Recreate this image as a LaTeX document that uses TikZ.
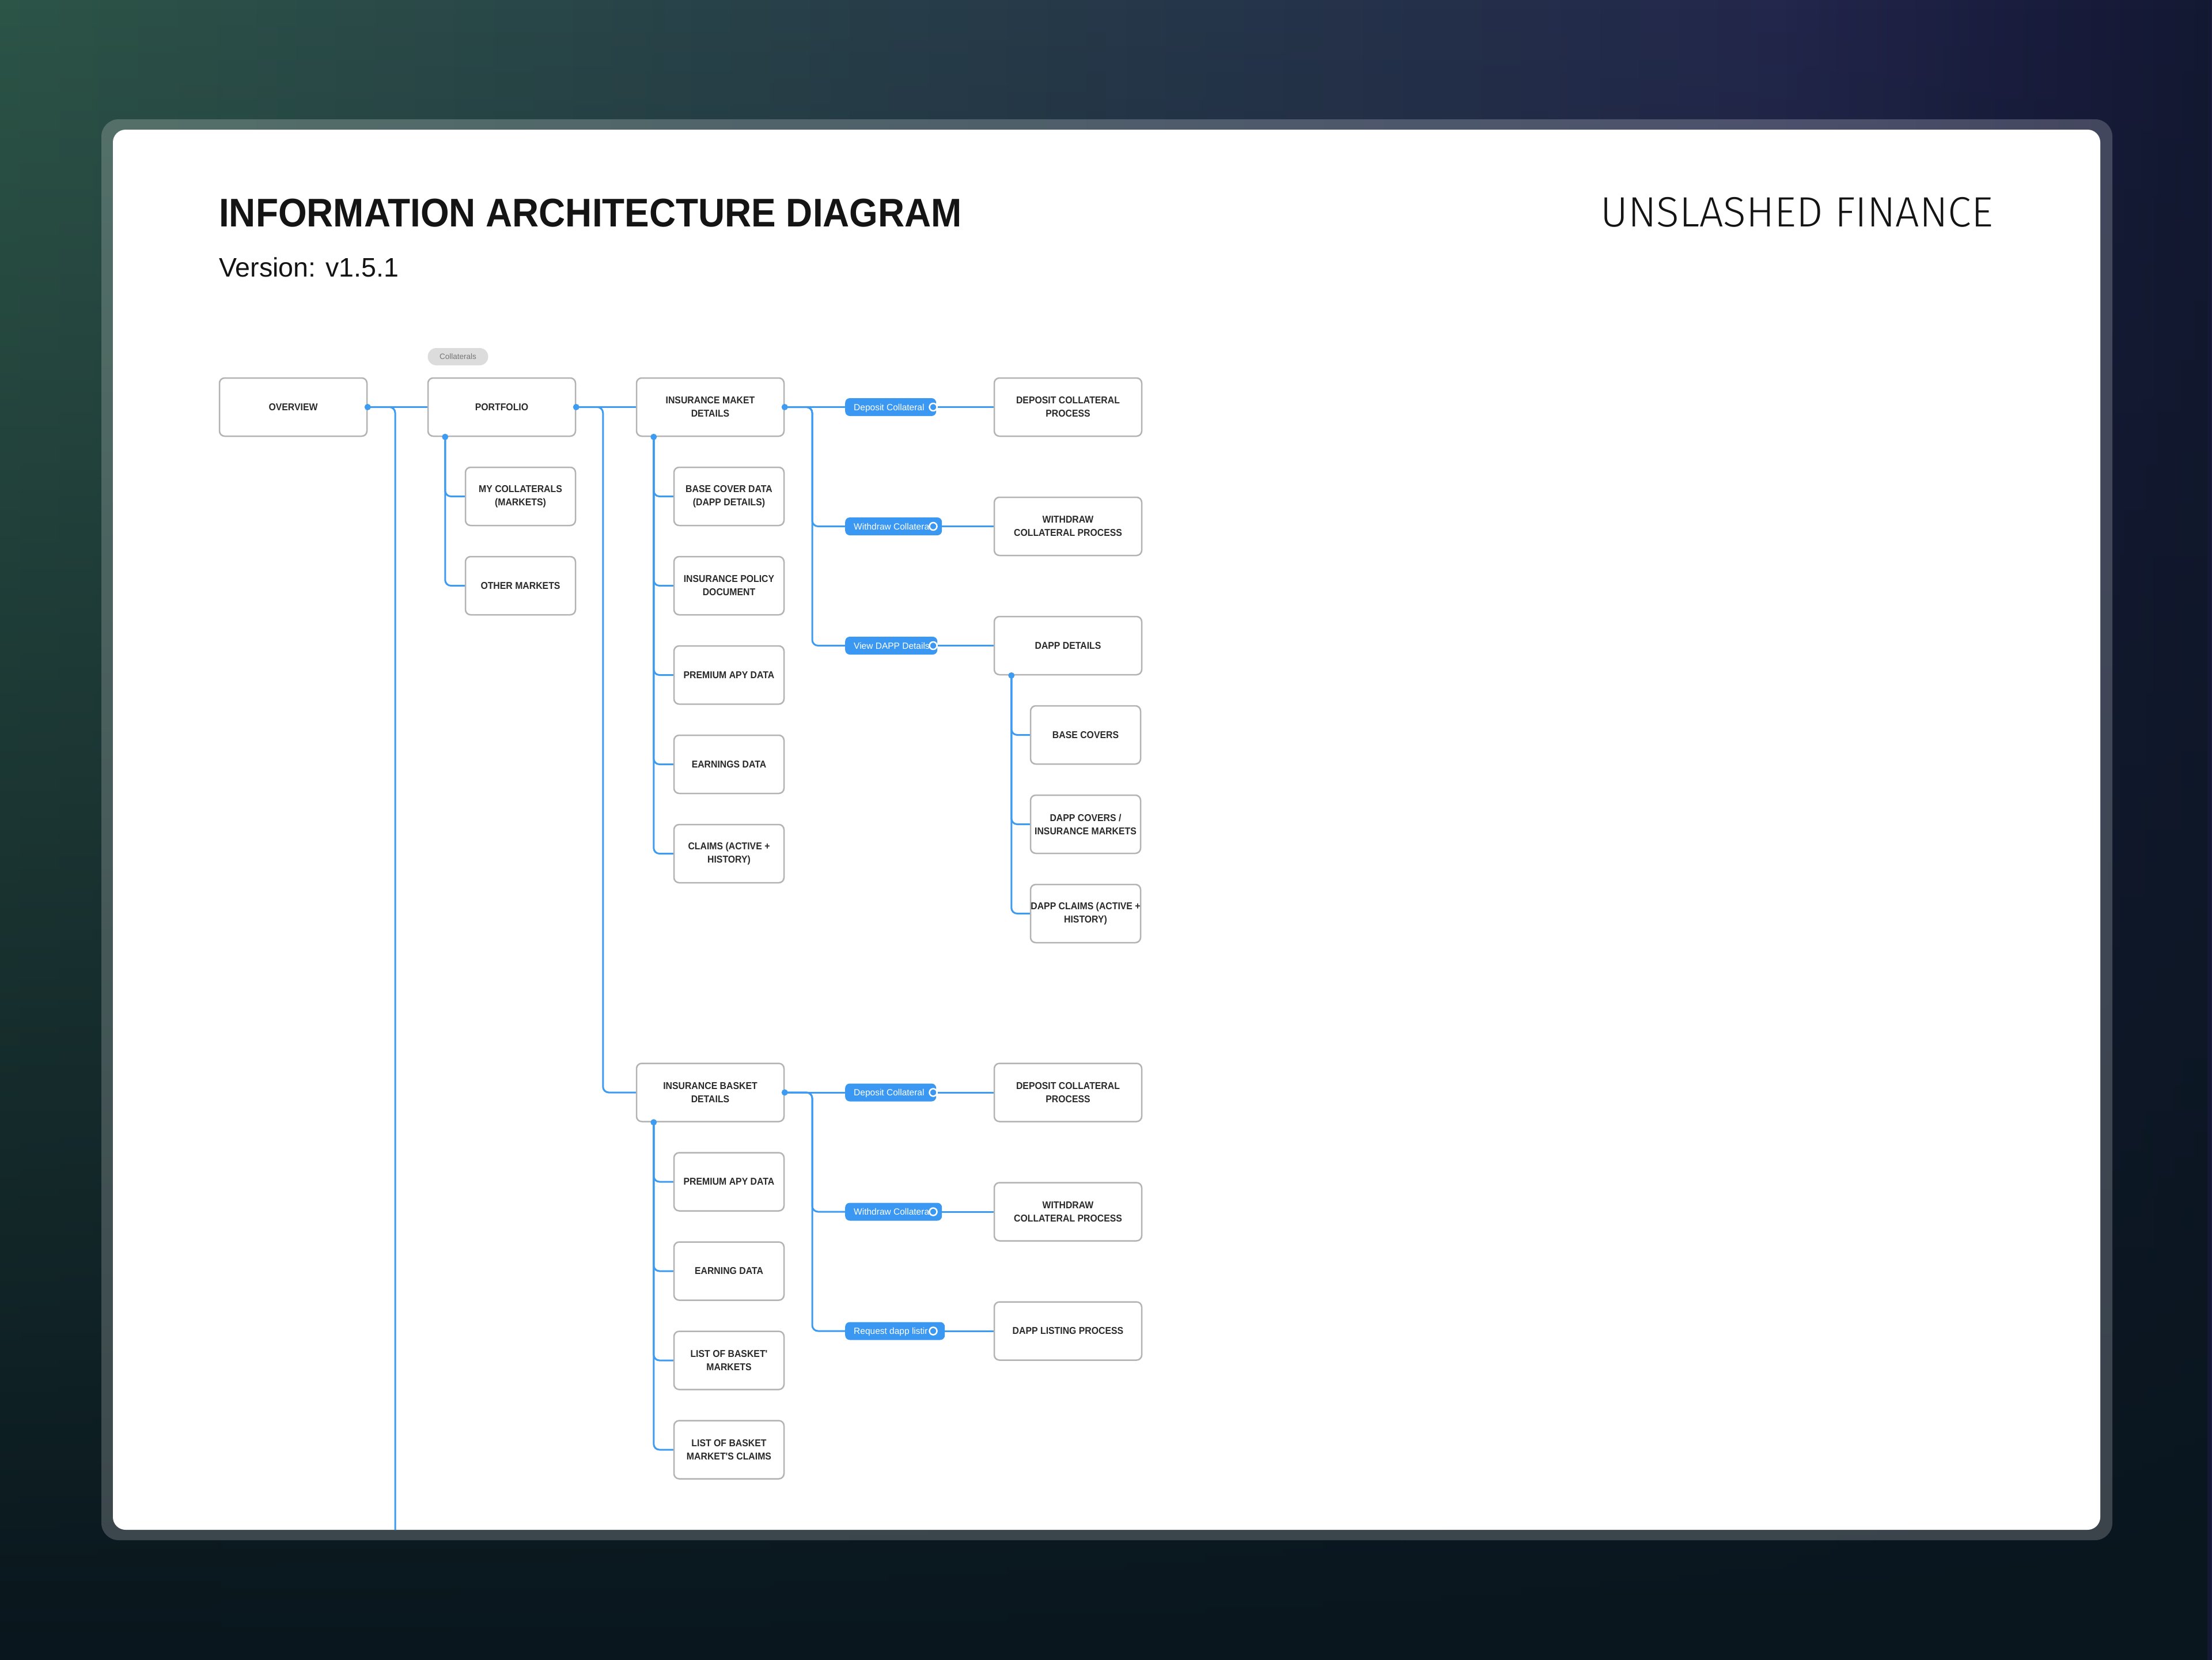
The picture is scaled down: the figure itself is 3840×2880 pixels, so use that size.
\documentclass[tikz,border=0pt]{standalone}
\usepackage{fontspec}
\setmainfont{Liberation Sans}
\newfontfamily\cfont{Liberation Sans}[FakeStretch=0.92]
\newfontfamily\lightfont{Fira Sans Light}
\usetikzlibrary{calc,fadings}
\definecolor{lineblue}{HTML}{3D9BF2}
\definecolor{pillblue}{HTML}{3A98F2}
\definecolor{boxgray}{HTML}{B3B3B3}
\definecolor{boxtext}{HTML}{2A2A2A}
\definecolor{chipgray}{HTML}{DCDCDC}
\definecolor{chiptext}{HTML}{757575}
\definecolor{bgA}{HTML}{2C5447}
\definecolor{bgB}{HTML}{243652}
\definecolor{bgC}{HTML}{201C4C}
\definecolor{bgD}{HTML}{09161D}
\definecolor{bgE}{HTML}{0F1828}
\tikzfading[name=fadedown, top color=transparent!100, middle color=transparent!35, bottom color=transparent!0]
\tikzfading[name=faderight, left color=transparent!100, right color=transparent!30]
\pgfdeclarelayer{back}
\pgfdeclarelayer{mid}
\pgfsetlayers{back,mid,main}
\tikzset{
  bigbox/.style={draw=boxgray, line width=2.5pt, fill=white, rounded corners=9pt,
    minimum width=256pt, minimum height=101pt, inner sep=0pt, align=center,
    font=\cfont\bfseries\fontsize{17.2}{23}\selectfont, text=boxtext},
  smallbox/.style={bigbox, minimum width=191pt},
  conn/.style={draw=lineblue, line width=3pt, rounded corners=10pt},
  pill/.style={fill=pillblue, rounded corners=8pt, minimum height=31pt, inner sep=0pt, anchor=west},
  pilltext/.style={text=white, font=\fontsize{15.5}{19}\selectfont, inner sep=0pt, anchor=base west},
  ring/.style={circle, fill=pillblue, draw=white, line width=2.5pt, minimum size=13pt, inner sep=0pt},
  dotn/.style={circle, fill=lineblue, minimum size=11pt, inner sep=0pt},
  chip/.style={fill=chipgray, rounded corners=15pt, minimum width=105pt, minimum height=30pt,
    inner sep=0pt, text=chiptext, font=\fontsize{13.5}{16}\selectfont},
}
\begin{document}
\begin{tikzpicture}[x=1pt, y=-1pt]
\useasboundingbox (0,0) rectangle (3840,2880);
\begin{pgfonlayer}{back}
  \fill[left color=bgA, middle color=bgB, right color=bgC] (0,0) rectangle (3840,2880);
  \fill[bgE, path fading=faderight] (3100,-60) rectangle (3840,2940);
  \fill[bgD, path fading=fadedown] (0,0) rectangle (3840,2880);
  \fill[white, opacity=0.2, rounded corners=30pt] (176,207) rectangle (3667,2673);
  \fill[white, rounded corners=22pt] (196,225) rectangle (3646,2655);
\end{pgfonlayer}

% titles
\node[anchor=base west, inner sep=0pt, font=\cfont\bfseries\fontsize{69.4}{80}\selectfont, text=black!92] (title) at (380,393) {INFORMATION ARCHITECTURE DIAGRAM};
\node[anchor=base west, inner sep=0pt, font=\fontsize{46.5}{56}\selectfont, text=black!92] (ver) at (380,480) {Version: v1.5.1};
\node[anchor=base east, inner sep=0pt, font=\lightfont\fontsize{73.5}{80}\selectfont, text=black!92] (brand) at (3460,393) {UNSLASHED FINANCE};

% chip
\node[chip] (col) at (795,619) {Collaterals};

% main row
\node[bigbox] (ov) at (509,706.5) {OVERVIEW};
\node[bigbox] (pf) at (871,706.5) {PORTFOLIO};
\node[bigbox] (imd) at (1233,706.5) {INSURANCE MAKET\\DETAILS};
\node[bigbox] (dcp1) at (1854,706.5) {DEPOSIT COLLATERAL\\PROCESS};
\node[bigbox] (wcp1) at (1854,913.5) {WITHDRAW\\COLLATERAL PROCESS};
\node[bigbox] (dd) at (1854,1120.5) {DAPP DETAILS};

% portfolio children
\node[smallbox] (mc) at (903.5,861.5) {MY COLLATERALS\\(MARKETS)};
\node[smallbox] (om) at (903.5,1016.5) {OTHER MARKETS};

% insurance market children
\node[smallbox] (bcd) at (1265.5,861.5) {BASE COVER DATA\\(DAPP DETAILS)};
\node[smallbox] (ipd) at (1265.5,1016.5) {INSURANCE POLICY\\DOCUMENT};
\node[smallbox] (pad1) at (1265.5,1171.5) {PREMIUM APY DATA};
\node[smallbox] (ed) at (1265.5,1326.5) {EARNINGS DATA};
\node[smallbox] (cl) at (1265.5,1481.5) {CLAIMS (ACTIVE +\\HISTORY)};

% dapp details children
\node[smallbox] (bc) at (1884.5,1275.5) {BASE COVERS};
\node[smallbox] (dcim) at (1884.5,1430.5) {DAPP COVERS /\\INSURANCE MARKETS};
\node[smallbox] (dcl) at (1884.5,1585.5) {DAPP CLAIMS (ACTIVE +\\HISTORY)};

% basket
\node[bigbox] (ibd) at (1233,1896) {INSURANCE BASKET\\DETAILS};
\node[smallbox] (pad2) at (1265.5,2051) {PREMIUM APY DATA};
\node[smallbox] (ern) at (1265.5,2206) {EARNING DATA};
\node[smallbox] (lbm) at (1265.5,2361) {LIST OF BASKET'\\MARKETS};
\node[smallbox] (lbc) at (1265.5,2516) {LIST OF BASKET\\MARKET'S CLAIMS};
\node[bigbox] (dcp2) at (1854,1896) {DEPOSIT COLLATERAL\\PROCESS};
\node[bigbox] (wcp2) at (1854,2103) {WITHDRAW\\COLLATERAL PROCESS};
\node[bigbox] (dlp) at (1854,2310) {DAPP LISTING PROCESS};

% pills
\node[pill, minimum width=158pt] (p1) at (1467,706.5) {};
\node[pilltext] (t1) at (1482,712.3) {Deposit Collateral};
\node[ring] (r1) at (1620,706.5) {};
\node[pill, minimum width=168pt] (p2) at (1467,913.5) {};
\node[pilltext] (t2) at (1482,919.3) {Withdraw Collatera};
\node[ring] (r2) at (1620,913.5) {};
\node[pill, minimum width=160pt] (p3) at (1467,1120.5) {};
\node[pilltext] (t3) at (1482,1126.3) {View DAPP Details};
\node[ring] (r3) at (1620,1120.5) {};
\node[pill, minimum width=158pt] (p4) at (1467,1896) {};
\node[pilltext] (t4) at (1482,1901.8) {Deposit Collateral};
\node[ring] (r4) at (1620,1896) {};
\node[pill, minimum width=168pt] (p5) at (1467,2103) {};
\node[pilltext] (t5) at (1482,2108.8) {Withdraw Collatera};
\node[ring] (r5) at (1620,2103) {};
\node[pill, minimum width=173pt] (p6) at (1467,2310) {};
\node[pilltext] (t6) at (1482,2315.8) {Request dapp listir};
\node[ring] (r6) at (1620,2310) {};

% coordinates
\coordinate (ovend) at (686,2655);
\coordinate (pfdot) at ($(pf.south west)+(31,0)$);
\coordinate (imddot) at ($(imd.south west)+(31,0)$);
\coordinate (dddot) at ($(dd.south west)+(31,0)$);
\coordinate (ibddot) at ($(ibd.south west)+(31,0)$);

\begin{pgfonlayer}{mid}
  \draw[conn] (ov.east) -- (pf.west);
  \draw[conn] (ov.east) -| (ovend);
  \draw[conn] (pf.east) -- (imd.west);
  \draw[conn] (pf.east) -| ($(ibd.west)+(-57,0)$) -- (ibd.west);
  \draw[conn] (pfdot) |- (mc.west);
  \draw[conn] (pfdot) |- (om.west);
  \foreach \c in {bcd,ipd,pad1,ed,cl} {\draw[conn] (imddot) |- (\c.west);}
  \foreach \c in {bc,dcim,dcl} {\draw[conn] (dddot) |- (\c.west);}
  \foreach \c in {pad2,ern,lbm,lbc} {\draw[conn] (ibddot) |- (\c.west);}
  \draw[conn] (imd.east) -- (p1.west);
  \draw[conn] (imd.east) -| ($(p2.west)+(-57,0)$) -- (p2.west);
  \draw[conn] (imd.east) -| ($(p3.west)+(-57,0)$) -- (p3.west);
  \draw[conn] (ibd.east) -- (p4.west);
  \draw[conn] (ibd.east) -| ($(p5.west)+(-57,0)$) -- (p5.west);
  \draw[conn] (ibd.east) -| ($(p6.west)+(-57,0)$) -- (p6.west);
  \draw[conn] (r1) -- (dcp1.west);
  \draw[conn] (r2) -- (wcp1.west);
  \draw[conn] (r3) -- (dd.west);
  \draw[conn] (r4) -- (dcp2.west);
  \draw[conn] (r5) -- (wcp2.west);
  \draw[conn] (r6) -- (dlp.west);
\end{pgfonlayer}

% dots
\node[dotn] (d1) at (ov.east) {};
\node[dotn] (d2) at (pf.east) {};
\node[dotn] (d3) at (imd.east) {};
\node[dotn] (d4) at (ibd.east) {};
\node[dotn] (d5) at (pfdot) {};
\node[dotn] (d6) at (imddot) {};
\node[dotn] (d7) at (dddot) {};
\node[dotn] (d8) at (ibddot) {};
\end{tikzpicture}
\end{document}
